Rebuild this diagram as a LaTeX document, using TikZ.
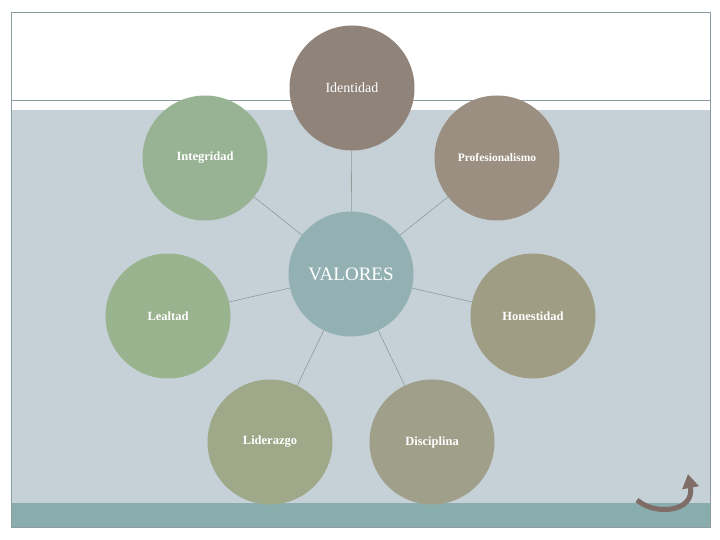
\documentclass[tikz,border=0pt]{standalone}
\usepackage{fontspec}
\setmainfont{Liberation Serif}
\usetikzlibrary{arrows.meta}

\definecolor{fondo}{HTML}{C5D1D7}
\definecolor{banda}{HTML}{89ADAC}
\definecolor{marco}{HTML}{8A9CA2}
\definecolor{linea}{HTML}{8C9D98}
\definecolor{cvalores}{HTML}{93B1B3}
\definecolor{cidentidad}{HTML}{8F837A}
\definecolor{cprofesion}{HTML}{9A8F80}
\definecolor{cintegridad}{HTML}{97B393}
\definecolor{clealtad}{HTML}{9AB38F}
\definecolor{chonestidad}{HTML}{A09D85}
\definecolor{cliderazgo}{HTML}{9FA98A}
\definecolor{cdisciplina}{HTML}{A0A08A}
\definecolor{flecha}{HTML}{7F6E68}

\begin{document}
\begin{tikzpicture}[x=1pt,y=-1pt,
    valor/.style={circle,minimum size=125pt,inner sep=0pt,text=white,
                  font=\fontsize{12.5}{14}\selectfont\bfseries},
    enlace/.style={draw=linea,line width=0.6pt}]
        \useasboundingbox (0,0) rectangle (720,540);

        % fondo
        \fill[fondo] (11,110) rectangle (710,503);
        \fill[banda] (11,503) rectangle (710,527);
        \draw[marco,line width=0.8pt] (11,12) rectangle (710,527);
        \draw[marco,line width=0.8pt] (11,100) -- (710,100);

        % circulos
        \node[valor,fill=cvalores,font=\fontsize{19}{21}\selectfont] (valores) at (351,274) {VALORES};
        \node[valor,fill=cidentidad,font=\fontsize{14}{16}\selectfont] (identidad) at (352,88) {Identidad};
        \node[valor,fill=cprofesion,font=\fontsize{11.5}{13}\selectfont\bfseries] (profesion) at (497,158) {Profesionalismo};
        \node[valor,fill=cintegridad] (integridad) at (205,158) {Integridad};
        \node[valor,fill=clealtad] (lealtad) at (168,316) {Lealtad};
        \node[valor,fill=chonestidad] (honestidad) at (533,316) {Honestidad};
        \node[valor,fill=cliderazgo] (liderazgo) at (270,442) {Liderazgo};
        \node[valor,fill=cdisciplina] (disciplina) at (432,442) {Disciplina};

        \draw[enlace] (valores) -- (identidad);
        \draw[enlace] (valores) -- (profesion);
        \draw[enlace] (valores) -- (integridad);
        \draw[enlace] (valores) -- (lealtad);
        \draw[enlace] (valores) -- (honestidad);
        \draw[enlace] (valores) -- (liderazgo);
        \draw[enlace] (valores) -- (disciplina);

        % flecha
        \draw[flecha,line width=5pt,-{Triangle[width=16pt,length=14pt]}]
            (637,500) .. controls (655,516) and (695,512) .. (688,474);
\end{tikzpicture}
\end{document}
